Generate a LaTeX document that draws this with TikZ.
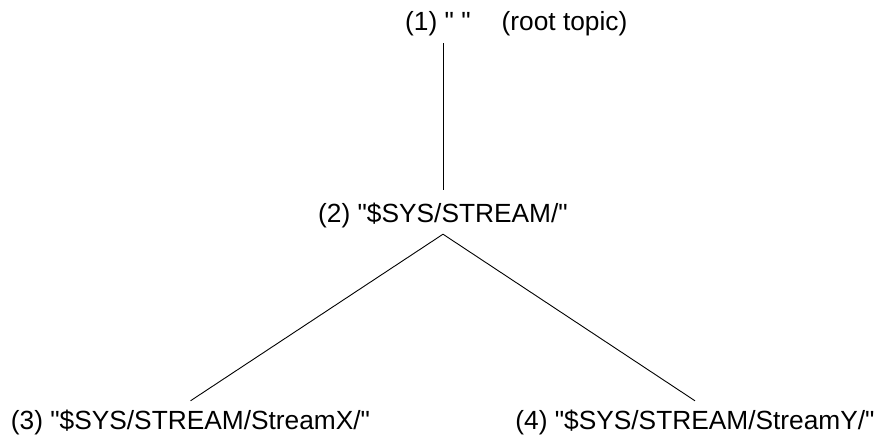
\documentclass[tikz,border=0pt]{standalone}
\usepackage{fontspec}
\setmainfont{Liberation Sans}[Ligatures=TeXOff]
\begin{document}
\begin{tikzpicture}[x=1pt,y=-1pt,
  lbl/.style={inner sep=0pt,font=\fontsize{26.3}{30}\selectfont},
  edge/.style={line width=0.9pt,black}]
\useasboundingbox (0,0) rectangle (878,436);
\node[lbl,anchor=base west,text depth=12pt] (n1) at (405,31) {(1) " "\hspace{31pt}(root topic)};
\node[lbl,anchor=base,text height=32pt,text depth=12pt] (n2) at (443,222) {(2) "\$SYS/STREAM/"};
\node[lbl,anchor=base,text height=28.5pt] (n3) at (190.5,429.5) {(3) "\$SYS/STREAM/StreamX/"};
\node[lbl,anchor=base,text height=28.5pt] (n4) at (695,429.5) {(4) "\$SYS/STREAM/StreamY/"};
\draw[edge] (n1.south -| n2.north) -- (n2.north);
\draw[edge] (n2.south) -- (n3.north);
\draw[edge] (n2.south) -- (n4.north);
\end{tikzpicture}
\end{document}
